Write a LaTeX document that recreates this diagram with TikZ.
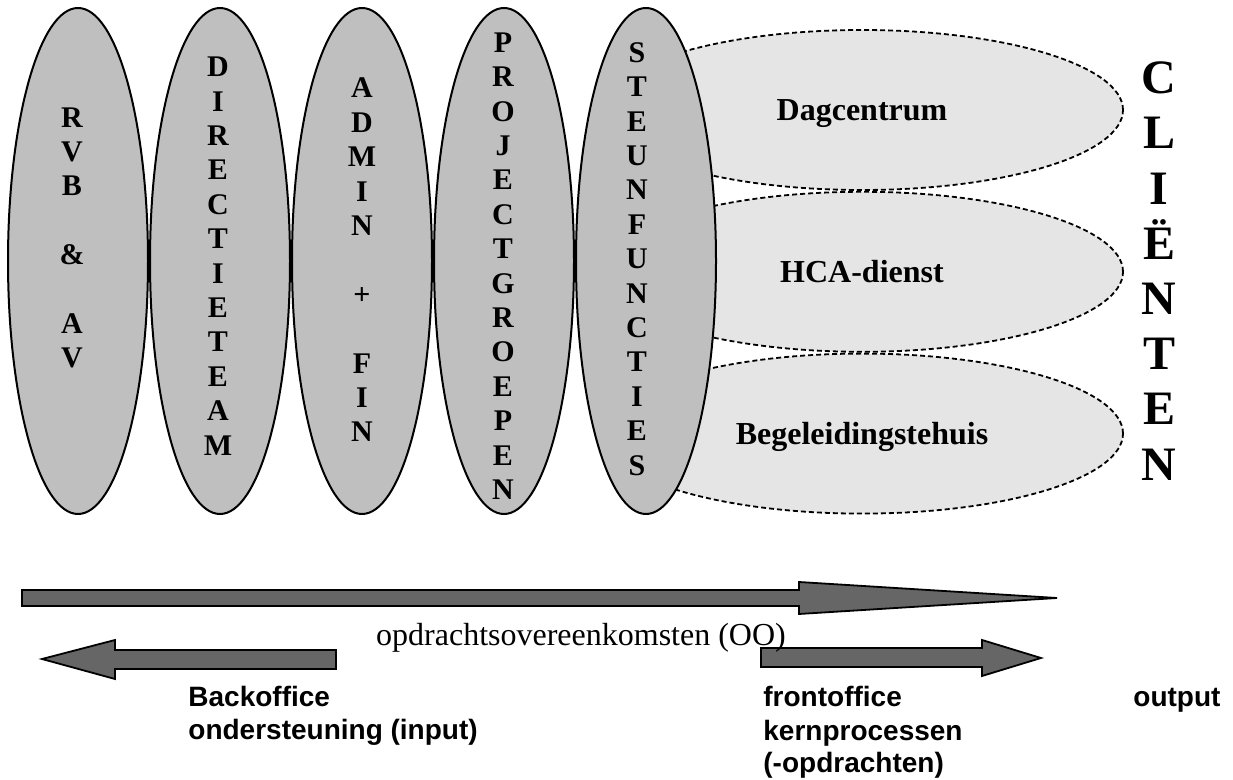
\documentclass[tikz,border=0pt]{standalone}
\usepackage{fontspec}
\setmainfont{Liberation Serif}
\setsansfont{Liberation Sans}
\usetikzlibrary{shapes.geometric, positioning}

\begin{document}
\begin{tikzpicture}[
    x=0.5pt, y=-0.5pt,
    unit/.style = {ellipse, draw=black, fill=black!25, line width=1pt, minimum width=70pt, minimum height=253pt, inner sep=0pt},
    site/.style = {ellipse, draw=black, fill=black!10, line width=0.9pt, dash pattern=on 2.5pt off 1.5pt, minimum width=261pt, minimum height=80pt, text depth=0pt, font=\bfseries\fontsize{16pt}{19pt}\selectfont},
    letters/.style = {align=center, inner sep=0pt, font=\bfseries\fontsize{15pt}{17.2pt}\selectfont},
    bar/.style = {draw=black, fill=black!60, line width=0.9pt, line join=miter},
    caption/.style = {anchor=base west, align=left, inner sep=0pt, font=\sffamily\bfseries\fontsize{14pt}{16.5pt}\selectfont}
]
\useasboundingbox (0,0) rectangle (1233,780);

% front office: light ellipses, the grey units lie on top of them
\node (dag) [site] at (862,110) {Dagcentrum};
\node (hca) [site, below=0pt of dag] {HCA-dienst};
\node (begel) [site, below=0pt of hca] {Begeleidingstehuis};

% back office units
\node (rvb) [unit] at (78,261) {};
\node (direct) [unit, right=0pt of rvb] {};
\node (admin) [unit, right=0pt of direct] {};
\node (proj) [unit, right=0pt of admin] {};
\node (steun) [unit, right=0pt of proj] {};

\node (rvbtxt) [letters] at (72,238) {R\\V\\B\\{}\\\&\\{}\\A\\V};
\node (directtxt) [letters] at (218,256) {D\\I\\R\\E\\C\\T\\I\\E\\T\\E\\A\\M};
\node (admintxt) [letters] at (362,260) {A\\D\\M\\I\\N\\{}\\+\\{}\\F\\I\\N};
\node (projtxt) [letters] at (503,266) {P\\R\\O\\J\\E\\C\\T\\G\\R\\O\\E\\P\\E\\N};
\node (steuntxt) [letters] at (637,259) {S\\T\\E\\U\\N\\F\\U\\N\\C\\T\\I\\E\\S};

\node (clienten) [letters, font=\bfseries\fontsize{24pt}{27.6pt}\selectfont] at (1159,271) {C\\L\\I\\Ë\\N\\T\\E\\N};

% flows
\draw [bar] (22,590) -- (799,590) -- (799,582) -- (1057,598) -- (799,614) -- (799,606) -- (22,606) -- cycle;
\draw [bar] (336,650) -- (115,650) -- (115,640) -- (42,659) -- (115,679) -- (115,669) -- (336,669) -- cycle;
\draw [bar] (761,648) -- (982,648) -- (982,640) -- (1041,658) -- (982,676) -- (982,667) -- (761,667) -- cycle;

% captions (base = baseline of the last line)
\node (oo) [anchor=base, inner sep=0pt, font=\fontsize{16pt}{19pt}\selectfont] at (581,646) {opdrachtsovereenkomsten (OO)};
\node (back) [caption] at (188,740) {Backoffice\\ondersteuning (input)};
\node (front) [caption] at (763,773) {frontoffice\\kernprocessen\\(-opdrachten)};
\node (out) [caption] at (1133,707) {output};

\end{tikzpicture}
\end{document}
